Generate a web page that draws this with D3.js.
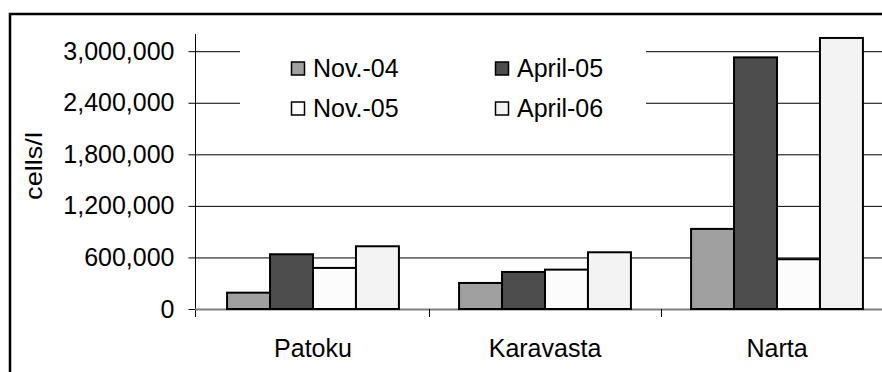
<!DOCTYPE html>
<html>
<head>
<meta charset="utf-8">
<script src="https://cdn.jsdelivr.net/npm/d3@7"></script>
<style>
  body { margin: 0; background: #fff; }
  text { font-family: "Liberation Sans", Arial, sans-serif; fill: #000; }
</style>
</head>
<body>
<div id="container"></div>
<script>
/* CONSTANTS AND GLOBALS */
const width = 882;
const height = 372;

/* DATA */
const sites = ["Patoku", "Karavasta", "Narta"];
const seasons = ["Nov.-04", "April-05", "Nov.-05", "April-06"];
const nov04 = [190000, 303000, 932000];
const apr05 = [637000, 431000, 2928000];
const nov05 = [478000, 458000, 579000];
const apr06 = [730000, 660000, 3154000];
const yTicks = [0, 600000, 1200000, 1800000, 2400000, 3000000];

const seriesValues = [nov04, apr05, nov05, apr06];
const colors = ["#a0a0a0", "#4d4d4d", "#fcfcfc", "#f3f3f3"];

const svg = d3.select("#container")
  .append("svg")
  .attr("width", width)
  .attr("height", height);

// outer chart frame (cropped on right / bottom)
svg.append("rect")
  .attr("x", 10).attr("y", 14)
  .attr("width", 1000).attr("height", 500)
  .attr("fill", "none")
  .attr("stroke", "#000")
  .attr("stroke-width", 2.5);

/* SCALES */
const xScale = d3.scaleBand()
  .domain(sites)
  .range([197, 893])
  .padding(0);

const xInner = d3.scaleBand()
  .domain(seasons)
  .range([0, xScale.bandwidth()])
  .paddingInner(0)
  .paddingOuter(0.7);

const yScale = d3.scaleLinear()
  .domain([0, 3200000])
  .range([309, 34]);

/* GRIDLINES */
svg.selectAll(".grid")
  .data(yTicks.filter(d => d > 0))
  .join("line")
  .attr("class", "grid")
  .attr("x1", 195).attr("x2", width)
  .attr("y1", d => yScale(d) + 0.5).attr("y2", d => yScale(d) + 0.5)
  .attr("stroke", "#000")
  .attr("stroke-width", 1);

/* Y AXIS */
const yAxis = svg.append("g")
  .attr("transform", "translate(195.5,0)")
  .call(d3.axisLeft(yScale)
    .tickValues(yTicks)
    .tickFormat(d3.format(","))
    .tickSize(7)
    .tickPadding(14));
yAxis.select(".domain").remove();
yAxis.selectAll(".tick line").attr("stroke", "#000");
yAxis.selectAll(".tick text")
  .style("font-size", "25px")
  .style("font-family", "'Liberation Sans', Arial, sans-serif")
  .attr("fill", "#000");

svg.append("line")
  .attr("x1", 195.5).attr("x2", 195.5)
  .attr("y1", 34).attr("y2", 317)
  .attr("stroke", "#000");

/* X AXIS */
const xAxis = svg.append("g")
  .attr("transform", "translate(0,309.5)")
  .call(d3.axisBottom(xScale).tickSize(0).tickPadding(30));
xAxis.select(".domain").remove();
xAxis.selectAll(".tick text")
  .style("font-size", "25px")
  .style("font-family", "'Liberation Sans', Arial, sans-serif")
  .attr("fill", "#000");

svg.append("line")
  .attr("x1", 195).attr("x2", width)
  .attr("y1", 309.5).attr("y2", 309.5)
  .attr("stroke", "#808080")
  .attr("stroke-width", 2);

// category separator ticks
svg.selectAll(".xsep")
  .data(sites.slice(1))
  .join("line")
  .attr("class", "xsep")
  .attr("x1", d => xScale(d) + 0.5).attr("x2", d => xScale(d) + 0.5)
  .attr("y1", 309).attr("y2", 317)
  .attr("stroke", "#000");

/* BARS */
const groups = svg.selectAll(".site")
  .data(sites)
  .join("g")
  .attr("class", "site")
  .attr("transform", d => `translate(${xScale(d)},0)`);

groups.selectAll(".bar")
  .data((d, i) => seasons.map((s, j) => ({ season: s, value: seriesValues[j][i], j })))
  .join("rect")
  .attr("class", "bar")
  .attr("x", d => xInner(d.season))
  .attr("y", d => yScale(d.value))
  .attr("width", xInner.bandwidth())
  .attr("height", d => yScale(0) - yScale(d.value))
  .attr("fill", d => colors[d.j])
  .attr("stroke", "#000")
  .attr("stroke-width", 2);

/* Y LABEL */
svg.append("text")
  .attr("transform", "translate(42,166) rotate(-90) scale(1.18,1)")
  .attr("text-anchor", "middle")
  .style("font-size", "23px")
  .text("cells/l");

/* LEGEND */
const legend = svg.append("g");
legend.append("rect")
  .attr("x", 240).attr("y", 38)
  .attr("width", 406).attr("height", 88)
  .attr("fill", "#fff");

const legendPos = [[291, 69], [495, 69], [291, 109], [495, 109]];
const items = legend.selectAll(".item")
  .data(seasons)
  .join("g")
  .attr("class", "item")
  .attr("transform", (d, i) => `translate(${legendPos[i][0]},${legendPos[i][1]})`);

items.append("rect")
  .attr("x", 0.5).attr("y", -7)
  .attr("width", 13).attr("height", 13)
  .attr("fill", (d, i) => colors[i])
  .attr("stroke", "#000")
  .attr("stroke-width", 1.5);

items.append("text")
  .attr("x", 22).attr("y", 8)
  .style("font-size", "25px")
  .text(d => d);
</script>
</body>
</html>
